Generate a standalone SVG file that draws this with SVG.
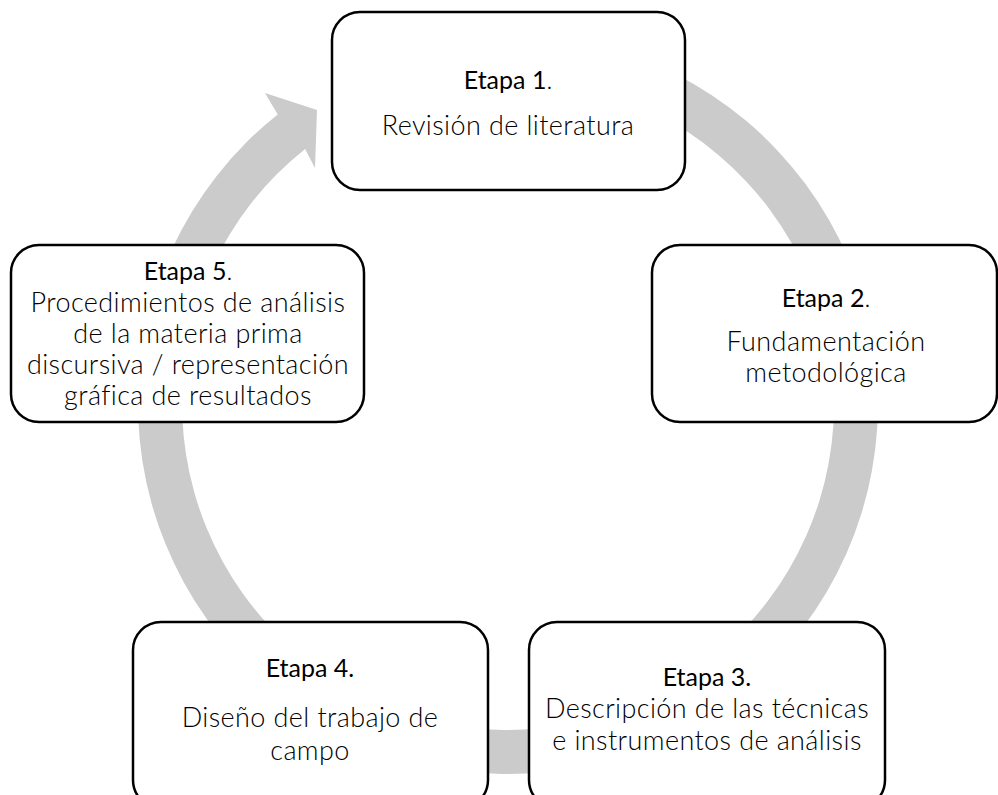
<svg xmlns="http://www.w3.org/2000/svg" width="998" height="795" viewBox="0 0 998 795">
<style>
.box{fill:#fff;stroke:#000;stroke-width:2.5}
.t{font-family:Lato,"Open Sans","Liberation Sans",sans-serif;font-size:25px;fill:#000;text-anchor:middle}
.h{font-weight:400}
.l{font-weight:300}
.b{font-size:27px;letter-spacing:0.4px}
.ring{fill:#cbcbcb}
</style>
<rect width="998" height="795" fill="#fff"/>
<g id="connectors">
<path class="ring" d="M 508 34 A 370 370 0 1 1 277.7 114.4 L 265 93 L 317 110 L 315 168 L 305.1 148.9 A 326 326 0 1 0 508 78 Z"/>
</g>
<g id="etapa1">
<rect class="box" x="332" y="12" width="353" height="178" rx="28"/>
<text class="t" x="508" y="89"><tspan class="h">Etapa 1</tspan><tspan class="l">.</tspan></text>
<text class="t l b" x="508" y="135">Revisión de literatura</text>
</g>
<g id="etapa2">
<rect class="box" x="652" y="245" width="345" height="177" rx="28"/>
<text class="t" x="826" y="307"><tspan class="h">Etapa 2</tspan><tspan class="l">.</tspan></text>
<text class="t l b" x="826" y="351">Fundamentación</text>
<text class="t l b" x="826" y="382">metodológica</text>
</g>
<g id="etapa3">
<rect class="box" x="529" y="622" width="356" height="186" rx="28"/>
<text class="t h" x="707" y="686">Etapa 3.</text>
<text class="t l b" x="707" y="718">Descripción de las técnicas</text>
<text class="t l b" x="707" y="750">e instrumentos de análisis</text>
</g>
<g id="etapa4">
<rect class="box" x="133" y="622" width="355" height="186" rx="28"/>
<text class="t h" x="310" y="677">Etapa 4.</text>
<text class="t l b" x="310" y="727">Diseño del trabajo de</text>
<text class="t l b" x="310" y="760">campo</text>
</g>
<g id="etapa5">
<rect class="box" x="11" y="245" width="353" height="177" rx="28"/>
<text class="t" x="188" y="280"><tspan class="h">Etapa 5</tspan><tspan class="l">.</tspan></text>
<text class="t l b" x="188" y="312">Procedimientos de análisis</text>
<text class="t l b" x="188" y="343">de la materia prima</text>
<text class="t l b" x="188" y="374">discursiva / representación</text>
<text class="t l b" x="188" y="405">gráfica de resultados</text>
</g>
</svg>
